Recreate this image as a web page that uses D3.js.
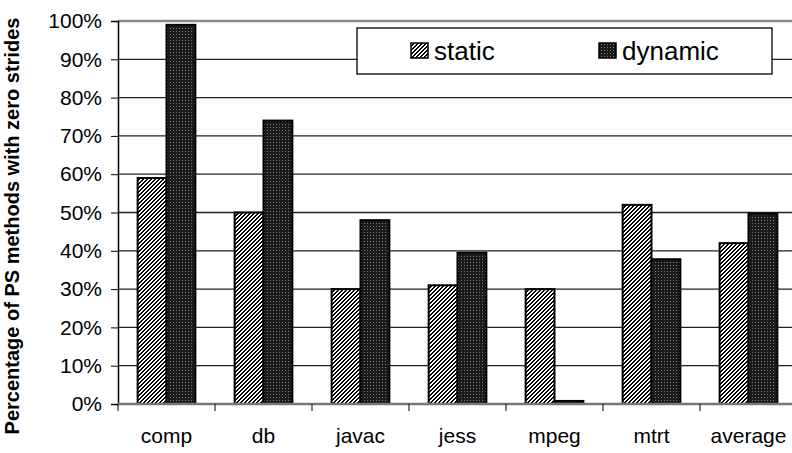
<!DOCTYPE html>
<html>
<head>
<meta charset="utf-8">
<script src="https://cdn.jsdelivr.net/npm/d3@7"></script>
<style>
  body { margin: 0; background: #fff; }
  svg { display: block; font-family: Arial, "Liberation Sans", sans-serif; }
</style>
</head>
<body>
<div id="chart"></div>
<script>
// benchmarks and shares of PS methods with zero strides
const categories = ['comp', 'db', 'javac', 'jess', 'mpeg', 'mtrt', 'average'];
const staticVals = [0.59, 0.50, 0.30, 0.31, 0.30, 0.52, 0.42];
const dynamicVals = [0.99, 0.74, 0.48, 0.395, 0.008, 0.378, 0.497];
const seriesNames = ['static', 'dynamic'];
const yTicks = [0, 0.1, 0.2, 0.3, 0.4, 0.5, 0.6, 0.7, 0.8, 0.9, 1.0];

let width = 792, height = 453;
let margin = { left: 118, top: 21, right: -5, bottom: 49 };

let svg = d3.select('#chart').append('svg')
  .attr('width', width)
  .attr('height', height);

let defs = svg.append('defs');
// pixel staircase hatch, "/" direction
let stripes = defs.append('pattern')
  .attr('id', 'stripes')
  .attr('patternUnits', 'userSpaceOnUse')
  .attr('width', 4).attr('height', 4);
stripes.append('rect').attr('width', 4).attr('height', 4).attr('fill', '#fff');
[[3, 0], [2, 1], [1, 2], [0, 3]].forEach(([c, r]) => {
  stripes.append('rect').attr('x', c).attr('y', r).attr('width', 2).attr('height', 1)
    .attr('fill', '#000').attr('shape-rendering', 'crispEdges');
});
stripes.append('rect').attr('x', 0).attr('y', 0).attr('width', 1).attr('height', 1)
  .attr('fill', '#000').attr('shape-rendering', 'crispEdges');

let dots = defs.append('pattern')
  .attr('id', 'dots')
  .attr('patternUnits', 'userSpaceOnUse')
  .attr('width', 3).attr('height', 3);
dots.append('rect').attr('width', 3).attr('height', 3).attr('fill', '#1a1a1a');
dots.append('rect').attr('x', 1).attr('y', 1).attr('width', 1).attr('height', 1).attr('fill', '#7a7a7a');

let x0 = d3.scaleBand()
  .domain(categories)
  .range([margin.left, width - margin.right])
  .paddingInner(0)
  .paddingOuter(0);

let x1 = d3.scaleBand()
  .domain(seriesNames)
  .range([0, x0.bandwidth()])
  .paddingOuter(0.68)
  .paddingInner(0);

let y = d3.scaleLinear()
  .domain([0, 1])
  .range([height - margin.bottom, margin.top]);

// gridlines
svg.append('g')
  .selectAll('line')
  .data(yTicks.filter(d => d > 0 && d < 1))
  .enter().append('line')
  .attr('x1', margin.left).attr('x2', width)
  .attr('y1', d => y(d)).attr('y2', d => y(d))
  .attr('stroke', '#222').attr('stroke-width', 1.3);

// top border
svg.append('line')
  .attr('x1', margin.left).attr('x2', width)
  .attr('y1', y(1)).attr('y2', y(1))
  .attr('stroke', '#888').attr('stroke-width', 2.5);

// bars
let fills = { static: 'url(#stripes)', dynamic: 'url(#dots)' };
let rows = categories.map((c, i) => ({ cat: c, static: staticVals[i], dynamic: dynamicVals[i] }));

let groups = svg.append('g')
  .selectAll('g')
  .data(rows)
  .enter().append('g')
  .attr('transform', d => `translate(${x0(d.cat)},0)`);

groups.selectAll('rect')
  .data(d => seriesNames.map(k => ({ key: k, value: d[k] })))
  .enter().append('rect')
  .attr('x', d => x1(d.key))
  .attr('width', x1.bandwidth())
  .attr('y', d => y(d.value))
  .attr('height', d => y(0) - y(d.value))
  .attr('fill', d => fills[d.key])
  .attr('stroke', '#000')
  .attr('stroke-width', 2);

// y axis
let yAxis = svg.append('g')
  .attr('transform', `translate(${margin.left},0)`)
  .call(d3.axisLeft(y).tickValues(yTicks).tickFormat(d3.format('.0%')).tickSize(7).tickPadding(9));
yAxis.select('.domain').attr('stroke', '#000').attr('stroke-width', 1.5);
yAxis.selectAll('.tick line').attr('stroke', '#000');
yAxis.selectAll('text').attr('font-size', 21).attr('fill', '#000')
  .attr('font-family', 'Arial, "Liberation Sans", sans-serif');

// x axis
let xAxisG = svg.append('g')
  .attr('transform', `translate(0,${y(0)})`);
xAxisG.append('line')
  .attr('x1', margin.left).attr('x2', width)
  .attr('stroke', '#777').attr('stroke-width', 2.5);
xAxisG.selectAll('line.tk')
  .data(categories)
  .enter().append('line')
  .attr('class', 'tk')
  .attr('x1', d => x0(d)).attr('x2', d => x0(d))
  .attr('y1', 0).attr('y2', 7)
  .attr('stroke', '#000');
xAxisG.selectAll('text')
  .data(categories)
  .enter().append('text')
  .attr('x', d => x0(d) + x0.bandwidth() / 2)
  .attr('y', 39)
  .attr('text-anchor', 'middle')
  .attr('font-size', 21)
  .text(d => d);

// y title
svg.append('text')
  .attr('transform', `translate(19,${226}) rotate(-90)`)
  .attr('text-anchor', 'middle')
  .attr('font-size', 20)
  .attr('font-weight', 'bold')
  .text('Percentage of PS methods with zero strides');

// legend
let legend = svg.append('g').attr('transform', 'translate(357,28)');
legend.append('rect')
  .attr('width', 415).attr('height', 46)
  .attr('fill', '#fff').attr('stroke', '#000').attr('stroke-width', 1.3);
let legendX = [54, 242];
seriesNames.forEach((s, i) => {
  legend.append('rect')
    .attr('x', legendX[i]).attr('y', 15)
    .attr('width', 17).attr('height', 15)
    .attr('fill', fills[s]).attr('stroke', '#000').attr('stroke-width', 1.5);
  legend.append('text')
    .attr('x', legendX[i] + 23).attr('y', 32)
    .attr('font-size', 26)
    .text(s);
});
</script>
</body>
</html>
